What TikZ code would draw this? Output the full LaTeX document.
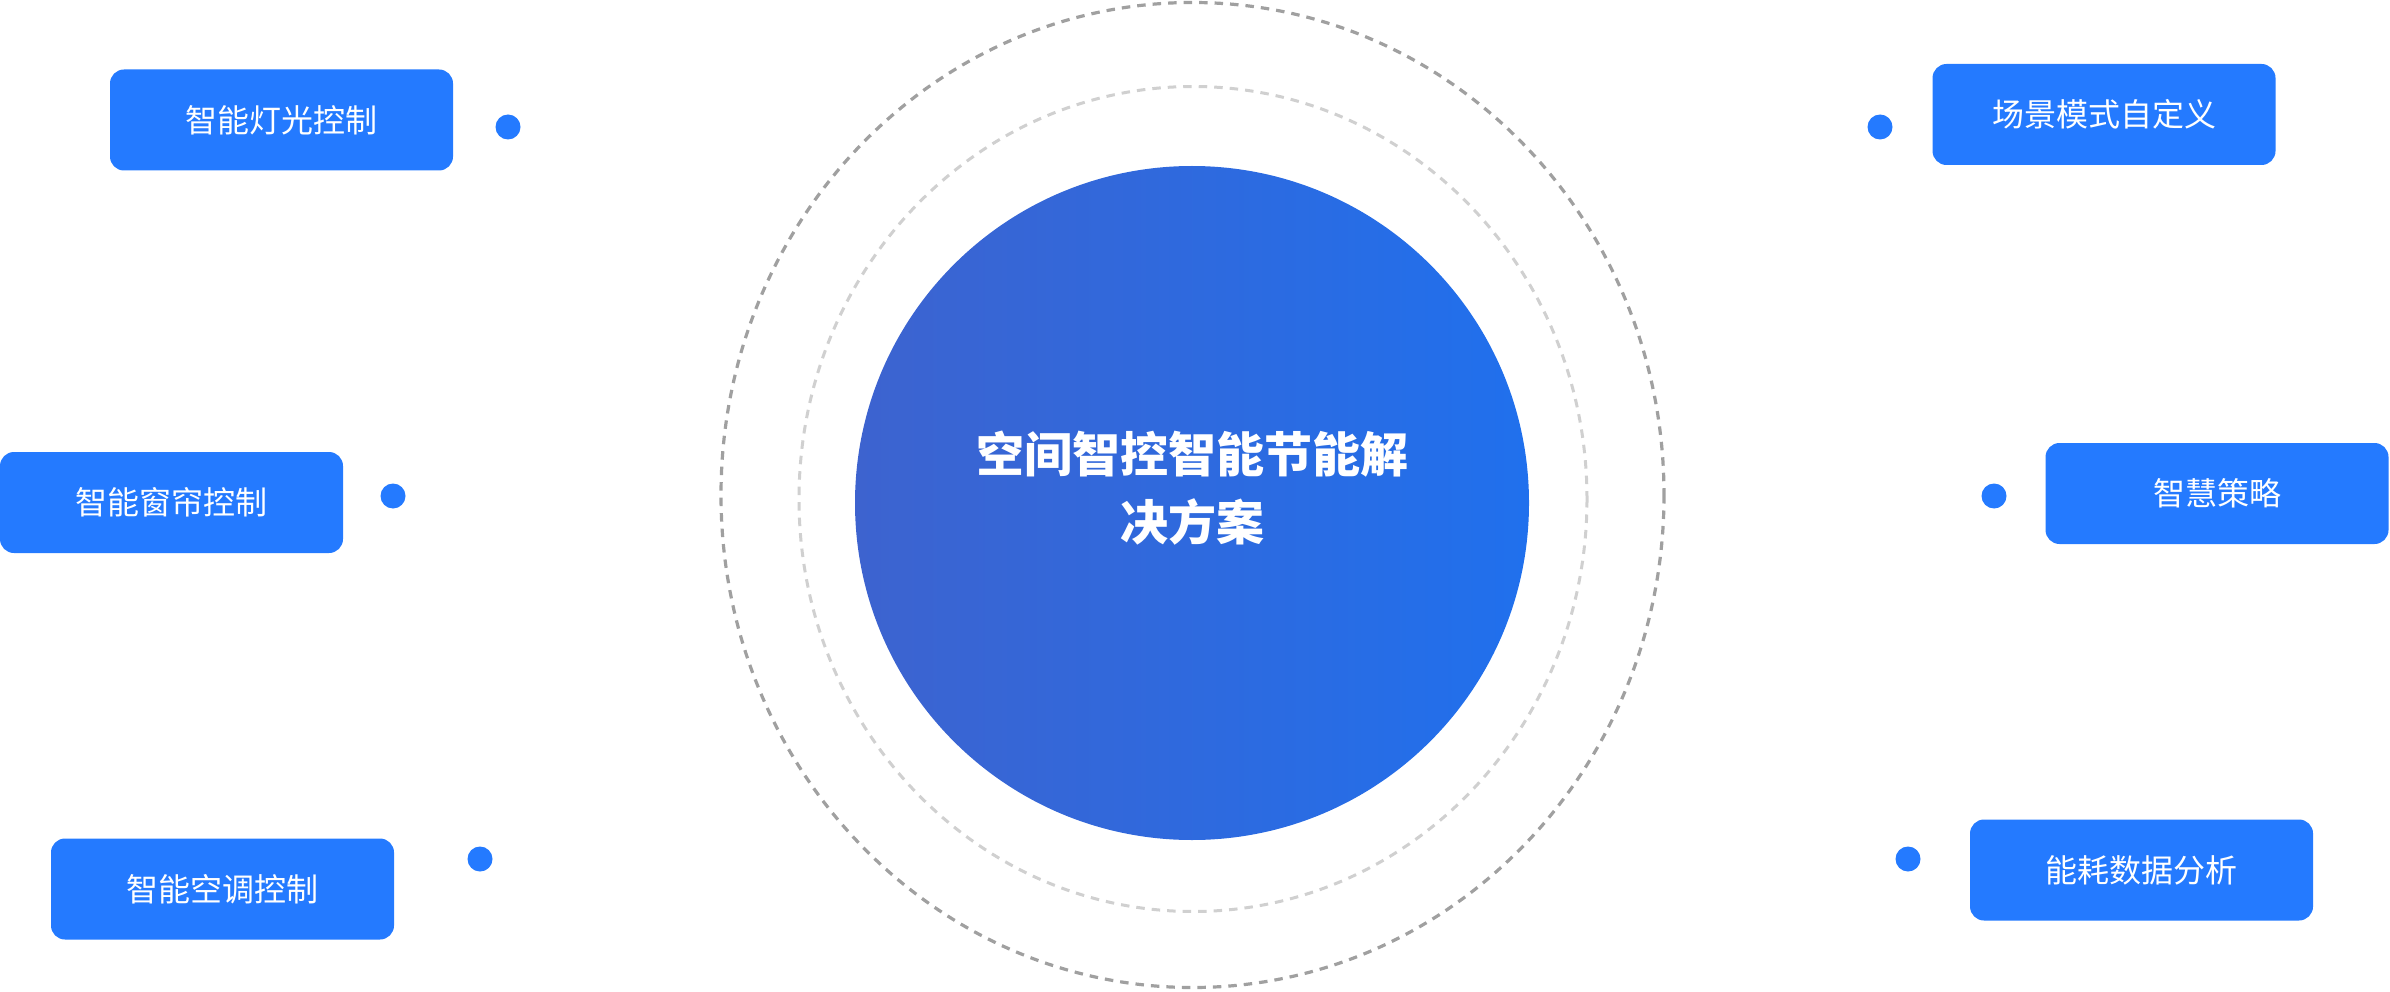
\documentclass[tikz,border=0pt]{standalone}
\usepackage{fontspec}
\newfontfamily\cjk{Noto Sans CJK SC}
\definecolor{boxblue}{RGB}{36,122,255}
\definecolor{discleft}{RGB}{61,99,207}
\definecolor{discright}{RGB}{32,112,237}
\definecolor{ringdark}{RGB}{160,160,160}
\definecolor{ringlight}{RGB}{208,208,208}
\begin{document}
\begin{tikzpicture}[x=1pt,y=-1pt,
    item/.style={fill=boxblue,rounded corners=14pt,minimum width=343pt,minimum height=101pt,
      inner sep=0pt,text=white,font=\cjk\fontsize{32}{38}\selectfont},
    marker/.style={circle,fill=boxblue,minimum size=25pt,inner sep=0pt},
    ring/.style={line width=3.2pt,dash pattern=on 8.5pt off 7pt}]
  \useasboundingbox (0,0) rectangle (2390,992);
  % rings and centre disc
  \draw[ring,ringdark] (1192.5,495) ellipse [x radius=471.5,y radius=492.5];
  \draw[ring,ringlight,line width=3pt] (1193,499) ellipse [x radius=394,y radius=412.5];
  \shade[left color=discleft,right color=discright] (1192,503) circle [radius=337];
  \node[text=white,align=center,font=\cjk\bfseries\fontsize{48}{68}\selectfont] (hub) at (1192,488)
    {空间智控智能节能解\\决方案};
  % left items
  \node[item] (light) at (281.5,120) {智能灯光控制};
  \node[item] (curtain) at (171.5,502.5) {智能窗帘控制};
  \node[item] (aircon) at (222.5,889) {智能空调控制};
  \node[marker] (lightdot) at (508,127) {};
  \node[marker] (curtaindot) at (393,496) {};
  \node[marker] (aircondot) at (480,859) {};
  % right items
  \node[item] (scene) at (2104,114.5) {场景模式自定义};
  \node[item] (strategy) at (2217,493.5) {智慧策略};
  \node[item] (energy) at (2141.5,870) {能耗数据分析};
  \node[marker] (scenedot) at (1880,127) {};
  \node[marker] (strategydot) at (1994,496) {};
  \node[marker] (energydot) at (1908,859) {};
\end{tikzpicture}
\end{document}
